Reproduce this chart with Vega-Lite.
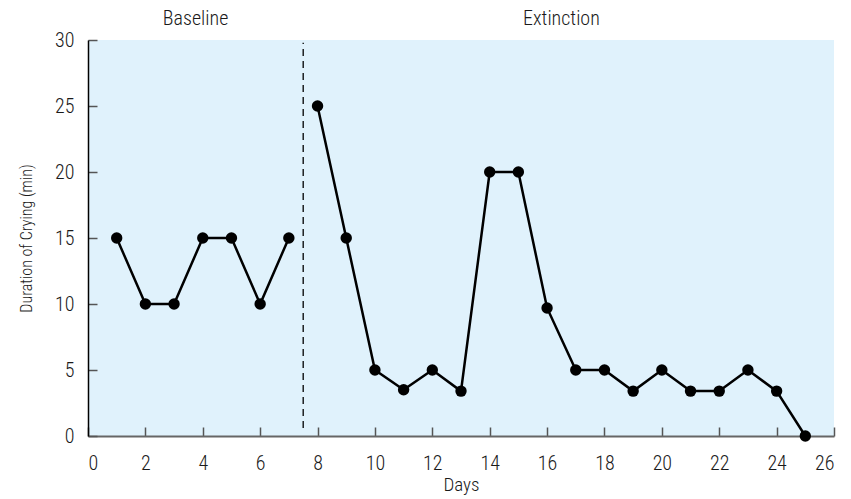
{
  "$schema": "https://vega.github.io/schema/vega-lite/v6.json",
  "width": 746,
  "height": 396,
  "autosize": "none",
  "padding": {"left": 88, "top": 40, "right": 17, "bottom": 63},
  "background": "white",
  "config": {
    "view": {"fill": "#e0f2fc", "stroke": null},
    "font": "Roboto Condensed, Roboto, sans-serif",
    "axis": {"grid": false, "labelFont": "Roboto Condensed, Roboto, sans-serif", "titleFont": "Roboto Condensed, Roboto, sans-serif", "labelFontSize": 20, "labelFontWeight": 300, "titleFontSize": 19, "titleFontWeight": 300, "labelColor": "#1a1a1a", "titleColor": "#1a1a1a"}
  },
  "datasets": {
    "pts": [
      {"day": 1, "min": 15, "phase": "Baseline"},
      {"day": 2, "min": 10, "phase": "Baseline"},
      {"day": 3, "min": 10, "phase": "Baseline"},
      {"day": 4, "min": 15, "phase": "Baseline"},
      {"day": 5, "min": 15, "phase": "Baseline"},
      {"day": 6, "min": 10, "phase": "Baseline"},
      {"day": 7, "min": 15, "phase": "Baseline"},
      {"day": 8, "min": 25, "phase": "Extinction"},
      {"day": 9, "min": 15, "phase": "Extinction"},
      {"day": 10, "min": 5, "phase": "Extinction"},
      {"day": 11, "min": 3.5, "phase": "Extinction"},
      {"day": 12, "min": 5, "phase": "Extinction"},
      {"day": 13, "min": 3.4, "phase": "Extinction"},
      {"day": 14, "min": 20, "phase": "Extinction"},
      {"day": 15, "min": 20, "phase": "Extinction"},
      {"day": 16, "min": 9.7, "phase": "Extinction"},
      {"day": 17, "min": 5, "phase": "Extinction"},
      {"day": 18, "min": 5, "phase": "Extinction"},
      {"day": 19, "min": 3.4, "phase": "Extinction"},
      {"day": 20, "min": 5, "phase": "Extinction"},
      {"day": 21, "min": 3.4, "phase": "Extinction"},
      {"day": 22, "min": 3.4, "phase": "Extinction"},
      {"day": 23, "min": 5, "phase": "Extinction"},
      {"day": 24, "min": 3.4, "phase": "Extinction"},
      {"day": 25, "min": 0, "phase": "Extinction"}
    ],
    "labels": [
      {"day": 3.75, "min": 31.14, "text": "Baseline"},
      {"day": 16.5, "min": 31.14, "text": "Extinction"}
    ],
    "divider": [
      {"day": 7.5, "y0": 0.6, "y1": 29.8}
    ]
  },
  "layer": [
    {
      "data": {"name": "divider"},
      "mark": {"type": "rule", "color": "black", "strokeWidth": 1.3, "strokeDash": [7, 5]},
      "encoding": {
        "x": {"field": "day", "type": "quantitative", "scale": {"domain": [0, 26]}},
        "y": {"field": "y0", "type": "quantitative", "scale": {"domain": [0, 30]}},
        "y2": {"field": "y1"}
      }
    },
    {
      "data": {"name": "pts"},
      "mark": {"type": "line", "color": "black", "strokeWidth": 2.5},
      "encoding": {
        "x": {"field": "day", "type": "quantitative", "scale": {"domain": [0, 26], "nice": false},
          "title": "Days",
          "axis": {"values": [0,2,4,6,8,10,12,14,16,18,20,22,24,26], "tickSize": -9, "tickColor": "#555", "tickWidth": 1.5, "domainColor": "#666", "domainWidth": 2, "labelPadding": 26, "titlePadding": 2}},
        "y": {"field": "min", "type": "quantitative", "scale": {"domain": [0, 30], "nice": false},
          "title": "Duration of Crying (min)",
          "axis": {"values": [0,5,10,15,20,25,30], "tickSize": -9, "tickColor": "#555", "tickWidth": 1.5, "domainColor": "black", "domainWidth": 1.5, "labelPadding": 23, "titlePadding": 20, "titleFontSize": 16}},
        "detail": {"field": "phase"}
      }
    },
    {
      "data": {"name": "pts"},
      "mark": {"type": "point", "filled": true, "color": "black", "opacity": 1, "size": 130},
      "encoding": {
        "x": {"field": "day", "type": "quantitative"},
        "y": {"field": "min", "type": "quantitative"}
      }
    },
    {
      "data": {"name": "labels"},
      "mark": {"type": "text", "fontSize": 20, "fontWeight": 300, "color": "#1a1a1a", "baseline": "alphabetic"},
      "encoding": {
        "x": {"field": "day", "type": "quantitative"},
        "y": {"field": "min", "type": "quantitative"},
        "text": {"field": "text"}
      }
    }
  ]
}
